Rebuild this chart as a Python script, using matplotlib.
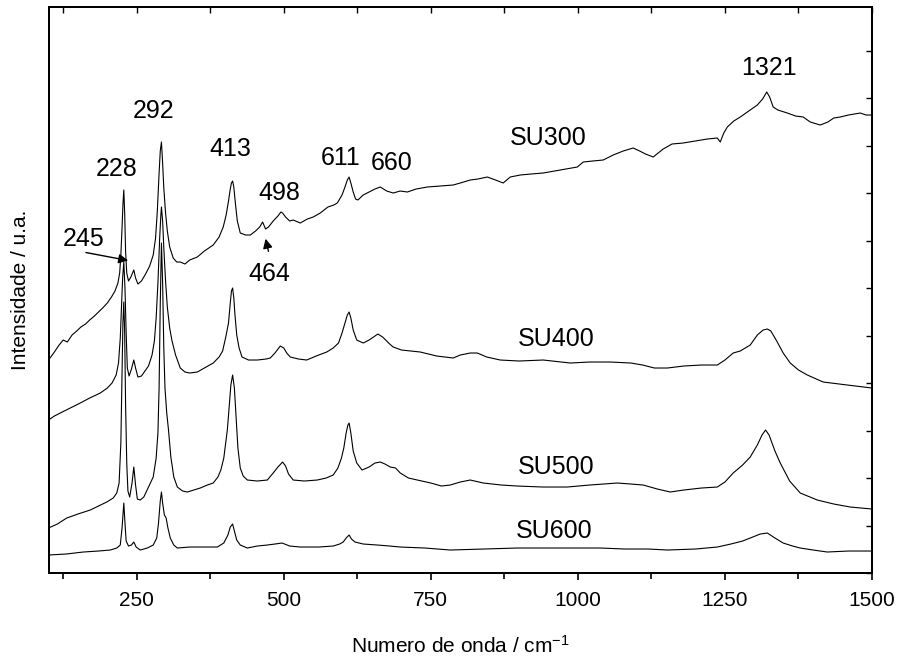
import matplotlib
matplotlib.use("Agg")
import matplotlib.pyplot as plt
from matplotlib.ticker import MultipleLocator, NullFormatter

plt.rcParams['font.family'] = ['Liberation Sans', 'DejaVu Sans']
plt.rcParams['mathtext.fontset'] = 'custom'
plt.rcParams['mathtext.rm'] = 'Liberation Sans'
plt.rcParams['mathtext.it'] = 'Liberation Sans'

# Raman spectra, stacked (intensity in arbitrary units)
su300_w = [100, 110, 118, 125, 132, 140, 148, 155, 163, 170, 178, 185, 192, 200, 207, 213, 218, 221, 223, 225,
           226.5, 228, 229.5, 231, 233, 236, 240, 245, 248, 252, 258, 265, 272, 278, 282, 285, 288, 290, 292, 294,
           296, 299, 302, 306, 312, 318, 324, 332, 340, 353, 365, 380, 390, 397, 402, 406, 409, 411, 413, 415,
           418, 421, 426, 435, 443, 452, 459, 464, 469, 474, 482, 490, 495, 498, 503, 510, 516, 528, 540, 550,
           562, 575, 585, 591, 599, 604, 608, 611, 614, 618, 622, 626, 635, 645, 655, 664, 675, 686, 698, 710,
           725, 744, 765, 788, 800, 817, 830, 846, 860, 873, 885, 902, 920, 941, 960, 980, 999, 1009, 1025, 1043,
           1060, 1077, 1094, 1105, 1115, 1128, 1145, 1160, 1179, 1200, 1220, 1237, 1242, 1248, 1254, 1265, 1276, 1293, 1305, 1314,
           1321, 1326, 1332, 1340, 1356, 1370, 1383, 1395, 1412, 1425, 1435, 1446, 1460, 1480, 1490, 1500]
su300_i = [213, 221, 228, 233, 231, 238, 242, 246, 249, 253, 257, 261, 265, 270, 276, 282, 290, 300, 318, 345,
           368, 383, 360, 322, 300, 292, 296, 303, 295, 289, 292, 299, 307, 318, 335, 362, 400, 422, 431, 410,
           385, 360, 342, 326, 315, 311, 311, 309, 313, 316, 322, 328, 336, 346, 358, 372, 384, 390, 392, 386,
           368, 352, 340, 338, 338, 342, 346, 351, 344, 346, 352, 357, 361, 360, 356, 352, 353, 350, 354, 356,
           360, 366, 368, 370, 378, 386, 393, 396, 390, 381, 374, 373, 378, 381, 384, 386, 382, 380, 382, 381,
           384, 386, 387, 388, 390, 393, 394, 396, 393, 390, 396, 398, 399, 400, 402, 404, 406, 411, 412, 413,
           418, 422, 425, 422, 419, 416, 424, 429, 430, 432, 434, 435, 431, 440, 446, 452, 456, 463, 468, 474,
           481, 476, 466, 463, 460, 457, 456, 451, 448, 451, 455, 456, 458, 460, 458, 458]

su400_w = [100, 110, 120, 137, 154, 170, 188, 200, 208, 215, 219, 222, 224, 226, 228, 230, 232, 234, 237, 241,
           245, 248, 252, 258, 264, 270, 276, 280, 283, 286, 289, 291, 292, 294, 296, 299, 302, 306, 310, 316,
           324, 332, 340, 353, 365, 380, 390, 396, 401, 406, 409, 411, 413, 415, 417, 420, 424, 429, 440, 455,
           470, 477, 485, 494, 500, 505, 511, 525, 539, 555, 573, 584, 593, 599, 604, 608, 611, 614, 618, 624,
           635, 645, 655, 660, 668, 680, 686, 700, 732, 760, 788, 800, 817, 829, 845, 868, 900, 941, 987, 1020,
           1055, 1090, 1110, 1130, 1152, 1180, 1210, 1237, 1250, 1264, 1276, 1293, 1305, 1315, 1322, 1328, 1338, 1349, 1361, 1375,
           1390, 1417, 1458, 1500]
su400_i = [153, 157, 160, 165, 170, 175, 180, 185, 190, 198, 210, 235, 265, 295, 311, 285, 240, 205, 197, 204,
           213, 205, 196, 197, 202, 207, 218, 232, 255, 290, 335, 358, 366, 352, 325, 292, 266, 245, 232, 218,
           205, 201, 200, 201, 205, 210, 216, 222, 235, 250, 270, 282, 285, 275, 258, 238, 225, 216, 213, 213,
           214, 215, 220, 227, 225, 220, 216, 214, 213, 217, 221, 225, 230, 240, 250, 258, 261, 255, 243, 233,
           230, 233, 237, 239, 236, 229, 226, 223, 221, 217, 215, 218, 220, 220, 216, 213, 212, 213, 210, 211,
           211, 210, 208, 205, 205, 207, 208, 208, 213, 220, 222, 228, 238, 243, 244, 242, 232, 220, 210, 203,
           198, 191, 188, 185]

su500_w = [100, 115, 131, 150, 171, 185, 199, 210, 216, 220, 223, 225, 226.5, 228, 229.5, 231, 233, 235, 238, 242,
           245, 248, 251, 256, 262, 270, 278, 283, 286, 288, 290, 292, 294, 296, 298, 301, 304, 308, 313, 319,
           328, 336, 347, 358, 370, 380, 388, 393, 398, 404, 407, 410, 413, 416, 419, 422, 426, 431, 438, 455,
           472, 482, 490, 498, 503, 508, 516, 535, 557, 572, 584, 592, 598, 602, 606, 609, 611, 614, 618, 624,
           633, 645, 655, 664, 672, 681, 690, 698, 712, 727, 750, 768, 783, 800, 817, 839, 870, 897, 940, 982,
           1020, 1067, 1090, 1111, 1135, 1157, 1180, 1210, 1237, 1250, 1264, 1280, 1293, 1305, 1313, 1319, 1325, 1335, 1344, 1360,
           1378, 1407, 1435, 1463, 1500]
su500_i = [45, 49, 55, 59, 63, 67, 71, 75, 80, 90, 130, 200, 250, 271, 240, 170, 110, 82, 76, 90,
           106, 88, 74, 73, 76, 86, 96, 115, 140, 185, 270, 330, 290, 225, 185, 160, 143, 116, 96, 86,
           82, 81, 83, 85, 88, 90, 96, 103, 115, 143, 165, 188, 198, 185, 155, 125, 105, 97, 93, 92,
           93, 100, 106, 111, 107, 99, 93, 92, 93, 95, 98, 105, 115, 125, 140, 148, 150, 140, 122, 110,
           103, 106, 110, 111, 109, 106, 105, 100, 95, 93, 90, 87, 88, 91, 93, 90, 88, 87, 86, 86,
           88, 90, 89, 88, 84, 81, 83, 85, 86, 91, 100, 108, 116, 128, 138, 143, 138, 122, 110, 92,
           80, 73, 69, 66, 64]

su600_w = [100, 130, 159, 185, 205, 216, 222, 225, 228, 230, 232, 236, 241, 245, 249, 256, 268, 278, 284, 287,
           290, 292, 294, 297, 300, 303, 307, 313, 319, 340, 360, 387, 398, 405, 409, 413, 416, 420, 426, 438,
           455, 472, 485, 497, 510, 528, 560, 584, 595, 601, 606, 611, 615, 621, 635, 659, 680, 698, 740, 783,
           840, 897, 960, 1038, 1080, 1120, 1152, 1200, 1237, 1260, 1280, 1293, 1310, 1322, 1335, 1349, 1365, 1378, 1400, 1424,
           1460, 1500]
su600_i = [18, 19, 21, 22, 23, 25, 28, 45, 70, 50, 32, 27, 28, 31, 26, 23, 25, 28, 35, 50,
           72, 81, 70, 58, 55, 45, 35, 28, 25, 26, 26, 26, 30, 38, 46, 49, 42, 33, 28, 25,
           27, 28, 29, 30, 27, 26, 26, 27, 29, 31, 35, 38, 34, 31, 29, 28, 27, 26, 25, 23,
           24, 25, 25, 25, 24, 24, 23, 24, 26, 29, 32, 35, 39, 40, 35, 30, 27, 25, 23, 21,
           22, 22]

# peak labels: text, x, y
peak_labels = ['228', '292', '413', '498', '611', '660', '1321']
peak_x = [215, 278, 409, 492, 596, 684, 1324]
peak_y = [404, 462, 424, 380, 415, 410, 505]

sample_names = ['SU300', 'SU400', 'SU500', 'SU600']
sample_x = [950, 963, 963, 960]
sample_y = [435, 234, 106, 42]

fig = plt.figure(figsize=(9, 6.61), dpi=100)
ax = fig.add_axes([0.0539, 0.1331, 0.9150, 0.8563])

for w, i in [(su300_w, su300_i), (su400_w, su400_i), (su500_w, su500_i), (su600_w, su600_i)]:
    ax.plot(w, i, color='black', lw=0.8)

for t, x, y in zip(peak_labels, peak_x, peak_y):
    ax.text(x, y, t, fontsize=18, ha='center', va='center')
for t, x, y in zip(sample_names, sample_x, sample_y):
    ax.text(x, y, t, fontsize=18, ha='center', va='center')

# arrowed labels
ax.text(159, 334, '245', fontsize=18, ha='center', va='center')
ax.annotate('', xy=(240, 312), xytext=(159, 321),
            arrowprops=dict(arrowstyle='-|>', color='black', lw=1, mutation_scale=14))
ax.text(475, 299, '464', fontsize=18, ha='center', va='center')
ax.annotate('', xy=(468, 337), xytext=(475, 319),
            arrowprops=dict(arrowstyle='-|>', color='black', lw=1, mutation_scale=14))

ax.set_xlim(100, 1500)
ax.set_ylim(0, 566)

ax.xaxis.set_major_locator(MultipleLocator(250))
ax.xaxis.set_minor_locator(MultipleLocator(125))
ax.yaxis.set_major_locator(MultipleLocator(47.5))
ax.yaxis.set_major_formatter(NullFormatter())

ax.tick_params(axis='x', which='both', direction='out', top=False, labelsize=15, pad=8)
ax.tick_params(axis='x', which='major', length=5, width=1.2)
ax.tick_params(axis='x', which='minor', length=4, width=1.2)
ax.tick_params(axis='y', which='both', left=False, right=True, direction='in', length=4, width=1)

# inward ticks along the top edge
top = ax.twiny()
top.set_xlim(ax.get_xlim())
top.xaxis.set_major_locator(MultipleLocator(125))
top.tick_params(axis='x', direction='in', length=4, width=1, labeltop=False)

for a in (ax, top):
    for s in a.spines.values():
        s.set_linewidth(1.4)

ax.set_xlabel('Numero de onda / cm$^{-1}$', fontsize=15, labelpad=18)
ax.set_ylabel('Intensidade / u.a.', fontsize=15, labelpad=10)

fig.savefig('out.png', dpi=100)
